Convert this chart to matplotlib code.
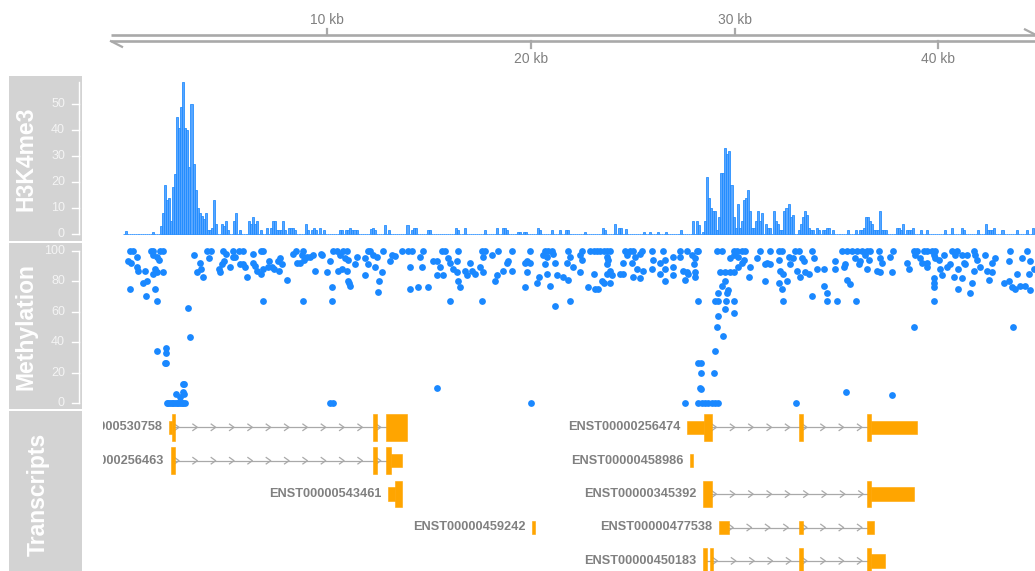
import matplotlib
matplotlib.use("Agg")
import matplotlib.pyplot as plt
from matplotlib.patches import Rectangle

plt.rcParams['font.family'] = ['Liberation Sans', 'DejaVu Sans']

W, H = 1035, 571
PX_PER_KB = 20.377
X0_PX = 123.23            # pixel column of position 0 kb
DATA_LEFT_PX, DATA_RIGHT_PX = 103, 1035


def px_to_kb(px):
    return (px - X0_PX) / PX_PER_KB


KB_LIM = (px_to_kb(DATA_LEFT_PX), px_to_kb(DATA_RIGHT_PX))

# ---------------------------------------------------------------- data
# genome axis ticks (kb)
axis_ticks_top = [10, 30]
axis_ticks_bottom = [20, 40]

# H3K4me3 coverage, 100 bp bins; bins not listed are 0
BIN_KB = 0.1
N_BINS = 448
h3_bins = [
    1, 14, 18, 19, 20, 21, 22, 23, 24, 25, 26, 27, 28, 29, 30, 31, 32, 33, 34, 35,
    36, 37, 38, 39, 40, 41, 42, 43, 44, 45, 48, 49, 50, 51, 54, 55, 57, 61, 62, 63,
    64, 65, 67, 70, 72, 73, 74, 75, 76, 77, 78, 79, 81, 82, 83, 84, 89, 90, 92, 93,
    94, 96, 98, 106, 107, 109, 110, 111, 112, 113, 114, 121, 122, 123, 128, 130, 139, 141, 142, 143,
    149, 150, 163, 164, 167, 177, 183, 186, 187, 188, 193, 194, 196, 197, 203, 204, 210, 214, 217, 218,
    226, 235, 236, 241, 243, 244, 246, 255, 258, 262, 266, 273, 279, 281, 282, 284, 285, 286, 287, 288,
    289, 290, 291, 292, 293, 294, 295, 296, 297, 298, 299, 300, 301, 302, 303, 304, 305, 306, 307, 308,
    309, 310, 311, 312, 313, 315, 316, 317, 319, 320, 321, 322, 323, 324, 325, 326, 327, 328, 331, 332,
    333, 334, 335, 336, 337, 338, 340, 341, 343, 344, 345, 346, 348, 355, 359, 361, 362, 363, 364, 365,
    366, 367, 368, 369, 370, 371, 372, 373, 374, 379, 380, 381, 382, 384, 385, 386, 387, 391, 394, 403,
    406, 411, 412, 419, 423, 424, 425, 426, 427, 431, 438, 443, 446,
]
h3_vals = [
    1.3, 1, 3, 8, 19, 13, 14, 5, 18, 23, 45, 41, 49, 58.5, 41, 40, 26, 50, 27, 17,
    10, 8, 7, 6, 8, 1.5, 1.5, 2.5, 13, 4, 4, 3, 5, 1.5, 5, 8, 1.5, 5, 4, 6.5,
    4, 5, 1.5, 2.5, 2.5, 5, 5, 1.5, 1.5, 1.5, 5, 1.5, 2.5, 2.5, 2.5, 1.5, 4, 1.5, 1.5, 2.5,
    1.5, 2.5, 1.5, 1.5, 1.5, 1.5, 1.5, 2.5, 1.5, 1.5, 1.5, 2, 2.5, 1.5, 3.5, 1.5, 3.5, 1.5, 2.5, 2.5,
    1.5, 1.5, 2.5, 1.5, 2.5, 1.5, 2.5, 2.5, 2.5, 1.5, 1, 1, 1, 1, 2.5, 1.5, 1.5, 1.5, 1.5, 1.5,
    1, 2.5, 1.5, 4, 2.5, 2.5, 2, 1, 1, 1, 1, 1.5, 5, 5, 3.5, 1, 5, 22, 14, 10,
    9, 9, 1.5, 6.5, 23.5, 23.5, 33, 31, 32, 19, 6.5, 2.5, 11.5, 2.5, 5, 13, 14, 17, 9, 2.5,
    2.5, 5, 9, 5, 8, 4, 2.5, 2.5, 9, 5, 4, 1.5, 1.5, 9, 10, 11.5, 6.5, 7.5, 1.5, 4,
    6.5, 9, 7.5, 2.5, 1.5, 1.5, 2.5, 1.5, 1.5, 1.5, 2.5, 2.5, 1.5, 1.5, 1.5, 1.5, 1.5, 2.5, 6.5, 6.5,
    5, 4, 1.5, 1.5, 1.5, 9, 1.5, 1.5, 1.5, 2.5, 2.5, 1.5, 4, 1.5, 1.5, 1.5, 2.5, 1.5, 1.5, 1.5,
    2.5, 2.5, 1.5, 1.5, 4, 1.5, 1.5, 1.5, 2.5, 1.5, 1.5, 1.5, 2.5,
]

# CpG methylation (%) at positions (kb)
meth_kb = [
    0.33, 0.46, 0.25, 0.38, 0.69, 0.66, 0.72, 1.05, 0.33, 0.98, 1.15, 1.11,
    1.34, 1.47, 1.80, 1.93, 1.44, 1.64, 1.77, 1.56, 1.44, 1.64, 1.93, 1.56, 1.64,
    1.67, 2.10, 2.08, 2.03, 2.10,
    2.13, 2.21, 2.29, 2.37, 2.46, 2.54, 2.62, 2.70, 2.78, 2.87, 2.95, 3.03,
    2.59, 2.78, 2.91, 3.00, 2.91, 2.98, 3.16, 3.27,
    3.47, 3.77, 3.83, 3.60, 3.90, 4.09, 4.29, 4.21, 4.72, 4.75, 4.83, 4.91, 5.04, 4.94,
    5.24, 5.37, 5.37, 5.48, 5.70, 5.89, 5.73, 5.86, 5.96, 6.09, 6.35, 6.35, 6.47, 6.55,
    6.74, 6.87, 6.76, 6.87, 6.84, 7.17, 7.12, 7.28, 7.40, 7.61, 7.66, 7.77, 7.69, 8.05,
    8.32, 8.48, 8.54, 8.68, 8.81, 8.76, 8.87, 9.00, 9.17, 9.33, 8.84, 9.43, 9.69, 9.74,
    9.98, 10.15, 10.23, 10.25, 10.15, 10.31, 10.31, 10.51, 10.77, 10.97, 10.56, 10.72,
    11.00, 11.05, 11.10, 10.64, 10.88, 11.05,
    12.03, 12.11, 12.73, 13.67, 13.99, 14.16, 14.73, 15.63, 15.79, 16.45, 17.59, 17.76,
    18.41, 19.07, 19.97, 20.70, 20.87, 21.03, 21.85, 22.50, 22.91, 23.08, 23.24, 23.40,
    23.57, 23.73, 23.89, 24.63, 24.88, 25.04, 25.45, 25.94, 26.51, 27.33, 27.66,
    11.46, 11.87, 12.27, 12.44, 13.17, 13.34, 14.57, 15.38, 15.96, 16.37, 17.02, 17.67,
    18.08, 18.82, 19.80, 20.62, 20.78, 21.11, 21.93, 22.42, 22.50, 23.73, 23.81, 24.71,
    25.12, 25.37, 26.02, 26.59, 27.00, 27.33,
    11.37, 12.03, 12.36, 13.09, 14.07, 14.65, 15.22, 15.55, 16.04, 16.20, 16.77, 17.10,
    17.51, 18.66, 18.90, 19.07, 19.72, 19.97, 20.70, 21.19, 21.77, 22.09, 22.42, 23.73,
    23.89, 24.55, 24.96, 25.20, 25.53, 25.94, 26.35, 26.59, 27.00, 27.49,
    11.87, 12.68, 15.38, 15.71, 16.37, 16.86, 17.27, 17.67, 18.33, 19.80, 20.38, 20.78,
    21.28, 21.60, 23.08, 23.73, 23.98, 24.38, 24.55, 25.04, 25.37, 26.35, 27.00, 27.74,
    11.13, 12.57, 12.52, 14.07, 14.48, 14.97, 16.45, 16.53, 18.25, 19.72, 20.29, 20.95,
    21.85, 22.83, 23.16, 23.32, 23.48, 23.57, 23.89, 26.59, 27.58,
    16.04, 17.59, 21.19, 21.93, 15.38, 20.00, 27.58,
    28.15, 28.23, 29.13, 29.38, 29.95, 30.11, 30.36, 30.52, 31.26, 31.75, 32.16, 32.32,
    32.98, 33.14, 33.79, 35.27, 35.51, 35.76, 36.00, 36.25, 36.49, 36.66, 37.07, 37.80,
    38.79, 38.95, 39.28, 39.44, 39.69, 39.85, 40.67, 40.91, 41.73, 43.53, 44.35,
    27.90, 28.07, 29.79, 29.95, 30.19, 30.44, 31.09, 31.50, 31.75, 32.16, 32.65, 32.89,
    33.30, 33.39, 33.88, 34.94, 35.43, 35.92, 36.17, 36.41, 36.58, 37.15, 37.23, 37.64,
    38.46, 38.87, 39.11, 39.19, 39.44, 39.77, 39.85, 40.01, 40.26, 40.59, 40.83, 41.16,
    41.24, 41.40, 41.81, 41.89, 42.30, 42.63, 42.79, 43.45, 44.10, 44.51,
    27.66, 27.99, 28.07, 29.29, 29.54, 29.79, 29.95, 30.19, 30.36, 30.77, 31.59, 32.24,
    32.40, 32.73, 33.06, 33.47, 33.63, 34.04, 34.37, 34.94, 35.35, 36.09, 36.49, 36.99,
    37.15, 37.72, 38.54, 39.44, 40.09, 40.42, 40.99, 41.32, 41.73, 42.06, 42.39, 42.63,
    43.86, 44.43, 44.68,
    28.07, 29.38, 29.54, 29.21, 29.70, 29.62, 30.69, 31.50, 32.16, 32.32, 32.57, 33.22,
    34.37, 34.53, 35.51, 35.68, 39.77, 39.77, 39.77, 40.18, 40.75, 40.99, 41.16, 41.57,
    41.65, 42.47, 43.20, 43.45, 43.61, 43.78, 44.02, 44.27, 44.51,
    28.23, 29.05, 29.21, 29.57, 29.95, 29.54, 29.95, 32.37, 33.79, 34.56, 35.02, 35.95,
    39.77, 29.21,
    29.13, 29.41, 29.05, 28.23, 28.35, 28.35, 29.00, 28.31, 28.36,
    28.23, 28.39, 28.56, 28.72, 28.89, 29.05, 29.21, 33.03, 35.48, 37.72, 38.79, 43.66,
]
meth_pct = [
    100, 100, 93, 92, 96, 89, 87, 87, 75, 79, 80, 70,
    100, 100, 100, 100, 97, 96, 94, 88, 85, 86, 86, 75, 67,
    34, 36, 33, 26, 26,
    0, 0, 0, 0, 0, 0, 0, 0, 0, 0, 0, 0,
    6, 4, 7, 6, 12.5, 12.5, 62.6, 43.5,
    97, 92, 88, 86, 83, 100, 100, 95, 88, 86, 91, 100, 98, 93,
    89, 100, 96, 96, 100, 100, 91, 91, 89, 83, 98, 92, 90, 87,
    100, 100, 85, 88, 67, 93, 89, 89, 88, 93, 87, 91, 95, 81,
    98, 100, 92, 92, 100, 97, 94, 96, 96, 97, 67, 87, 98, 97,
    86, 93, 76, 67, 0, 0, 100, 100, 100, 100, 87, 88,
    87, 80, 79, 97, 95, 94,
    100, 100, 100, 100, 100, 100, 100, 100, 100, 100, 100, 100,
    100, 100, 100, 100, 100, 100, 100, 100, 100, 100, 100, 100,
    100, 100, 100, 100, 100, 100, 100, 100, 100, 100, 100,
    96, 95, 97, 96, 97, 96.5, 96, 93, 95, 93, 92, 96,
    97, 92, 93, 97, 96, 98, 96, 97, 94, 96, 94, 97,
    96, 98, 94, 94, 96, 96,
    91, 91, 89, 93, 89, 89, 93, 89, 92, 88, 87, 87,
    89, 87, 93, 87, 92, 92, 91, 92, 92, 89, 86, 91,
    87, 92, 92, 88, 87, 88, 92, 88, 89, 87,
    84, 86, 84, 84, 86, 84, 85, 86, 84, 86, 83, 85,
    84, 83, 85, 85, 84, 85, 85, 83, 82, 85, 84, 85,
    77, 80, 73, 75, 76, 76, 80, 76, 80, 76, 79, 77,
    81, 76, 75, 75, 80, 79, 79, 80, 81,
    67, 67, 64, 67, 10, 0, 0,
    100, 100, 100, 100, 100, 100, 100, 100, 100, 100, 100, 100,
    100, 100, 100, 100, 100, 100, 100, 100, 100, 100, 100, 100,
    100, 100, 100, 100, 100, 100, 100, 100, 100, 100, 100,
    97, 95, 95, 97, 96, 94, 95, 91, 91, 94, 96, 95,
    95, 93, 95, 93, 91, 95, 93, 97, 94, 95, 92, 96,
    92, 97, 95, 92, 92, 97, 95, 94, 97, 91, 97, 97,
    92, 97, 97, 94, 97, 92, 95, 93, 95, 93,
    86, 91, 86, 86, 86, 86, 86, 89, 92, 89, 92, 87,
    85, 91, 87, 86, 85, 88, 88, 88, 89, 91, 88, 87,
    86, 86, 88, 89, 88, 89, 88, 91, 87, 89, 87, 86,
    85, 85, 88,
    82.5, 77, 80, 72, 74, 72, 82.5, 80, 79, 75, 80, 82.5,
    77, 72, 81, 78, 82, 79, 76, 84, 83, 75, 82, 72,
    79, 81, 79, 80, 76, 75, 77, 77, 74,
    67, 67, 67, 67, 67, 62, 59, 67, 70, 67, 67, 67,
    67, 57,
    50, 44, 34, 26, 26, 20, 20, 10, 9.5,
    0, 0, 0, 0, 0, 0, 0, 0, 7.4, 5, 50, 50,
]

# transcripts: name, row, exons as (start kb, end kb, coding?)
tx_names = [
    "ENST00000530758", "ENST00000256463", "ENST00000543461", "ENST00000459242",
    "ENST00000256474", "ENST00000458986", "ENST00000345392", "ENST00000477538",
    "ENST00000450183",
]
tx_rows = [0, 1, 2, 3, 0, 1, 2, 3, 4]
tx_exons = [
    [(2.258, 2.376, False), (2.376, 2.538, True), (12.273, 12.440, True), (12.897, 13.913, True)],
    [(2.327, 2.538, True), (12.273, 12.440, True), (12.897, 13.127, True), (13.127, 13.667, False)],
    [(13.009, 13.338, False), (13.338, 13.667, True)],
    [(20.079, 20.211, False)],
    [(27.688, 28.523, False), (28.523, 28.915, True), (33.186, 33.353, True),
     (36.495, 36.706, True), (36.706, 38.950, False)],
    [(27.835, 27.983, False)],
    [(28.474, 28.915, True), (36.495, 36.706, True), (36.706, 38.817, False)],
    [(29.244, 29.735, False), (33.186, 33.353, False), (36.495, 36.868, False)],
    [(28.474, 28.670, True), (28.802, 28.964, True), (33.186, 33.353, True),
     (36.495, 36.706, True), (36.706, 37.393, False)],
]

# ---------------------------------------------------------------- style
GREY_BOX = '#d3d3d3'
AXIS_GREY = '#a9a9a9'
TEXT_GREY = '#808080'
BLUE = '#1a88ff'
BAR_FILL = '#58a6ff'
ORANGE = '#ffa500'
TITLE_FS = 16.5
TICK_FS = 9

fig = plt.figure(figsize=(W / 100, H / 100), dpi=100)


def add_ax(x0, y0, x1, y1, **kw):
    return fig.add_axes([x0 / W, 1 - y1 / H, (x1 - x0) / W, (y1 - y0) / H], **kw)


def bare(ax):
    for s in ax.spines.values():
        s.set_visible(False)
    ax.set_xticks([])
    ax.set_yticks([])
    ax.patch.set_alpha(0)


# ---------------------------------------------------------------- genome axis
ax_g = add_ax(DATA_LEFT_PX, 0, DATA_RIGHT_PX, 76)
bare(ax_g)
ax_g.set_xlim(*KB_LIM)
ax_g.set_ylim(76, 0)
g_left = px_to_kb(111)
g_right = px_to_kb(1036)
barb = 11 / PX_PER_KB
ax_g.plot([g_left, g_right], [35, 35], color=AXIS_GREY, lw=1.9, solid_capstyle='butt')
ax_g.plot([g_left, g_right], [41.2, 41.2], color=AXIS_GREY, lw=1.9, solid_capstyle='butt')
ax_g.plot([g_left, g_left + barb], [41.2, 46.8], color=AXIS_GREY, lw=1.6)
ax_g.plot([g_right, g_right - barb], [35, 29.4], color=AXIS_GREY, lw=1.6)
for t in axis_ticks_top:
    ax_g.plot([t, t], [35, 28.5], color=AXIS_GREY, lw=1.6)
    ax_g.text(t, 19.5, f"{t} kb", ha='center', va='center', fontsize=10, color=TEXT_GREY)
for t in axis_ticks_bottom:
    ax_g.plot([t, t], [41.2, 48], color=AXIS_GREY, lw=1.6)
    ax_g.text(t, 59, f"{t} kb", ha='center', va='center', fontsize=10, color=TEXT_GREY)

# ---------------------------------------------------------------- H3K4me3 track
H3_YLIM = (-2.58, 60.88)
ax_h = add_ax(DATA_LEFT_PX, 76, DATA_RIGHT_PX, 241)
bare(ax_h)
ax_h.set_xlim(*KB_LIM)
ax_h.set_ylim(*H3_YLIM)
coverage = [0.0] * N_BINS
for b, v in zip(h3_bins, h3_vals):
    coverage[b] = v
centers = [(i + 0.5) * BIN_KB for i in range(N_BINS)]
ax_h.bar(centers, coverage, width=BIN_KB, color=BAR_FILL, edgecolor=BLUE,
         linewidth=0.55)

# ---------------------------------------------------------------- methylation track
M_YLIM = (-3.94, 104.86)
ax_m = add_ax(DATA_LEFT_PX, 243.3, DATA_RIGHT_PX, 409)
bare(ax_m)
ax_m.set_xlim(*KB_LIM)
ax_m.set_ylim(*M_YLIM)
ax_m.scatter(meth_kb, meth_pct, s=24, color=BLUE, linewidths=0, clip_on=False)

# ---------------------------------------------------------------- transcripts track
ROW0_PX, ROW_PX = 427.3, 33.4
T_TOP, T_BOT = 411, 571
ax_t = add_ax(DATA_LEFT_PX, T_TOP, DATA_RIGHT_PX, T_BOT)
bare(ax_t)
ax_t.set_xlim(*KB_LIM)
ax_t.set_ylim((T_BOT - ROW0_PX) / ROW_PX, (T_TOP - ROW0_PX) / ROW_PX)
TALL, THIN = 0.4, 0.2
chev_dx = 4.5 / PX_PER_KB
chev_dy = 3.2 / ROW_PX
for name, row, exons in zip(tx_names, tx_rows, tx_exons):
    ex = sorted(exons)
    for (s0, e0, _), (s1, e1, _) in zip(ex[:-1], ex[1:]):
        if s1 - e0 > 0.01:
            ax_t.plot([e0, s1], [row, row], color=AXIS_GREY, lw=0.9, zorder=1)
            x = e0 + 0.2
            while x < s1 - 0.1:
                ax_t.plot([x - chev_dx, x, x - chev_dx],
                          [row - chev_dy, row, row + chev_dy],
                          color=AXIS_GREY, lw=0.9, zorder=1)
                x += 0.9
    for s, e, coding in ex:
        h = TALL if coding else THIN
        ax_t.add_patch(Rectangle((s, row - h), e - s, 2 * h, facecolor=ORANGE,
                                 edgecolor=ORANGE, lw=0.4, zorder=2))
    ax_t.annotate(name, xy=(ex[0][0], row), xytext=(-5.2, 0), textcoords='offset points',
                  ha='right', va='center', fontsize=9.2, fontweight='bold',
                  color=TEXT_GREY, annotation_clip=False, clip_on=True)

# ---------------------------------------------------------------- title panels
TITLE_X0, TITLE_X1 = 9, 81.7
AXLINE_X = 78.7


def title_panel(y0, y1, label, label_x, label_y, ylim=None, ticks=None, top=None):
    ax = add_ax(TITLE_X0, y0, TITLE_X1, y1)
    for s in ax.spines.values():
        s.set_visible(False)
    ax.set_xticks([])
    ax.set_yticks([])
    ax.set_facecolor(GREY_BOX)
    ax.set_xlim(TITLE_X0, TITLE_X1)
    if ylim is not None:
        ax.set_ylim(*ylim)
        ax.plot([AXLINE_X, AXLINE_X], [0, top], color='white', lw=1.0)
        for t in ticks:
            ax.plot([AXLINE_X - 7, AXLINE_X], [t, t], color='white', lw=1.0)
            ax.text(65, t, str(t), ha='right', va='center', fontsize=TICK_FS,
                    color='#f4f4f4')
    fig.text(label_x / W, 1 - label_y / H, label, rotation=90, rotation_mode='anchor',
             ha='center', va='baseline', fontsize=TITLE_FS, fontweight='bold',
             color='white')


title_panel(76, 241, "H3K4me3", 32.5, 159.2, H3_YLIM, [0, 10, 20, 30, 40, 50], max(h3_vals))
title_panel(243.3, 409, "Methylation", 32.5, 326.7, M_YLIM, [0, 20, 40, 60, 80, 100], 100)
title_panel(411, 578, "Transcripts", 44.5, 494)

fig.savefig("out.png", dpi=100)
